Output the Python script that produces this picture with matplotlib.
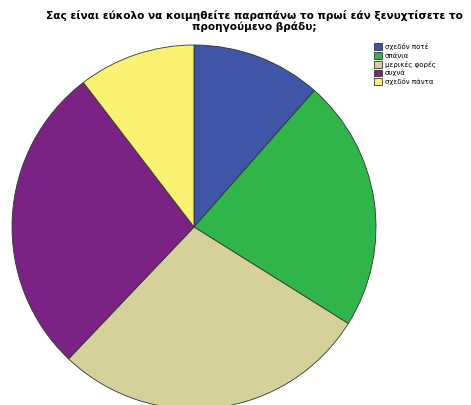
import matplotlib.pyplot as plt

# answer categories and their shares (percent)
labels = ['σχεδόν ποτέ', 'σπάνια', 'μερικές φορές', 'συχνά', 'σχεδόν πάντα']
shares = [11.5, 22.4, 28.2, 27.5, 10.4]
colors = ['#3f55a8', '#2fb54a', '#d6d09a', '#7b2384', '#faf272']

title = ('Σας είναι εύκολο να κοιμηθείτε παραπάνω το πρωί εάν ξενυχτίσετε το\n'
         'προηγούμενο βράδυ;')

W, H = 471, 405
fig = plt.figure(figsize=(W / 100, H / 100), dpi=100)
fig.patch.set_facecolor('white')

# square box for the pie, centred at (194, 227) px with radius 182 px
cx, cy, r = 194, 227, 182
ax = fig.add_axes([(cx - r) / W, (H - cy - r) / H, 2 * r / W, 2 * r / H])
wedges, _ = ax.pie(shares, colors=colors, startangle=90, counterclock=False,
                   radius=1.0,
                   wedgeprops=dict(edgecolor='#333333', linewidth=0.6))
ax.set_xlim(-1, 1)
ax.set_ylim(-1, 1)
ax.set_aspect('auto')
ax.axis('off')

fig.text(254 / W, 1 - 10 / H, title, ha='center', va='top',
         fontsize=7.6, fontweight='bold', linespacing=1.05)

leg = fig.legend(wedges, labels, loc='upper left',
                 bbox_to_anchor=(374 / W, 1 - 43 / H),
                 frameon=False, fontsize=5, handlelength=1.1,
                 handleheight=1.1, handletextpad=0.5, labelspacing=0.28,
                 borderaxespad=0, borderpad=0)

fig.savefig('out.png', dpi=100)
